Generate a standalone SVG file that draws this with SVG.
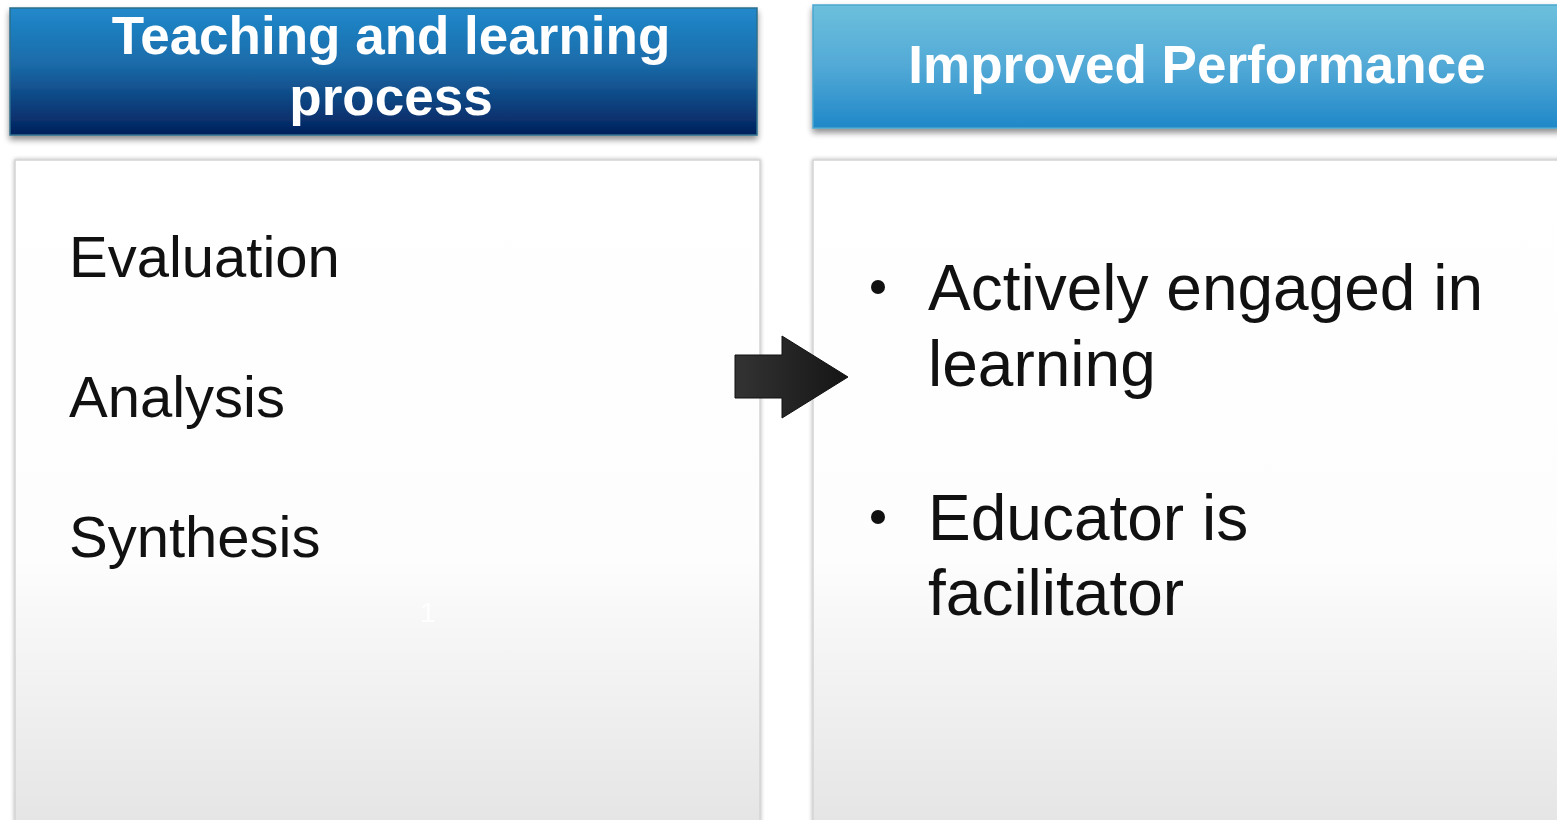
<svg xmlns="http://www.w3.org/2000/svg" width="1557" height="820" viewBox="0 0 1557 820">
<defs>
<linearGradient id="gDark" x1="0" y1="0" x2="0" y2="1">
<stop offset="0" stop-color="#2189cb"/><stop offset="0.45" stop-color="#1a6aa8"/><stop offset="1" stop-color="#02205c"/>
</linearGradient>
<linearGradient id="gLight" x1="0" y1="0" x2="0" y2="1">
<stop offset="0" stop-color="#6cc0dc"/><stop offset="0.5" stop-color="#52a9d6"/><stop offset="1" stop-color="#1f88c8"/>
</linearGradient>
<linearGradient id="gBody" x1="0" y1="0" x2="0" y2="1">
<stop offset="0" stop-color="#ffffff"/><stop offset="0.6" stop-color="#fdfdfd"/><stop offset="1" stop-color="#e5e5e5"/>
</linearGradient>
<linearGradient id="gArrow" x1="0" y1="0" x2="1" y2="0">
<stop offset="0" stop-color="#333333"/><stop offset="1" stop-color="#151515"/>
</linearGradient>
<filter id="sh" x="-5%" y="-10%" width="110%" height="130%">
<feGaussianBlur in="SourceAlpha" stdDeviation="3"/><feOffset dx="0" dy="4"/>
<feComponentTransfer><feFuncA type="linear" slope="0.45"/></feComponentTransfer>
<feMerge><feMergeNode/><feMergeNode in="SourceGraphic"/></feMerge>
</filter>
<filter id="sh2" x="-5%" y="-5%" width="110%" height="110%">
<feGaussianBlur in="SourceAlpha" stdDeviation="2"/>
<feComponentTransfer><feFuncA type="linear" slope="0.3"/></feComponentTransfer>
<feMerge><feMergeNode/><feMergeNode in="SourceGraphic"/></feMerge>
</filter>
</defs>
<style>
.hd{font-family:"Liberation Sans",Arial,sans-serif;font-weight:bold;font-size:53px;fill:#ffffff;text-anchor:middle}
.bd{font-family:"Liberation Sans",Arial,sans-serif;font-size:58px;fill:#111111}
.bd2{font-family:"Liberation Sans",Arial,sans-serif;font-size:64px;fill:#111111}
.box{fill:url(#gBody);stroke:#d4d4d4;stroke-width:1.5}
</style>
<rect width="1557" height="820" fill="#ffffff"/>
<g id="left-body">
<rect class="box" x="15" y="160" width="745" height="662" filter="url(#sh2)"/>
<text class="bd" x="69" y="277">Evaluation</text>
<text class="bd" x="69" y="417">Analysis</text>
<text class="bd" x="69" y="557">Synthesis</text>
<text x="420" y="622" font-family="Liberation Sans, Arial, sans-serif" font-size="28" fill="#ffffff" opacity="0.9">1</text>
</g>
<g id="right-body">
<rect class="box" x="813" y="160" width="748" height="662" filter="url(#sh2)"/>
<circle cx="878" cy="287" r="7" fill="#111111"/>
<text class="bd2" x="928" y="310">Actively engaged in</text>
<text class="bd2" x="928" y="386">learning</text>
<circle cx="878" cy="517" r="7" fill="#111111"/>
<text class="bd2" x="928" y="540">Educator is</text>
<text class="bd2" x="928" y="615">facilitator</text>
</g>
<g id="left-header">
<rect x="10" y="8" width="747" height="127" fill="url(#gDark)" stroke="#2b6f8c" stroke-width="1.5" filter="url(#sh)"/>
<text class="hd" x="391" y="54">Teaching and learning</text>
<text class="hd" x="391" y="115">process</text>
</g>
<g id="right-header">
<rect x="813" y="5" width="748" height="123" fill="url(#gLight)" stroke="#4aa6cf" stroke-width="1.5" filter="url(#sh)"/>
<text class="hd" x="1197" y="83">Improved Performance</text>
</g>
<g id="connectors">
<path d="M735,355 L782,355 L782,336 L848,377 L782,418 L782,398 L735,398 Z" fill="url(#gArrow)" stroke="#111111" stroke-width="1"/>
</g>
</svg>
